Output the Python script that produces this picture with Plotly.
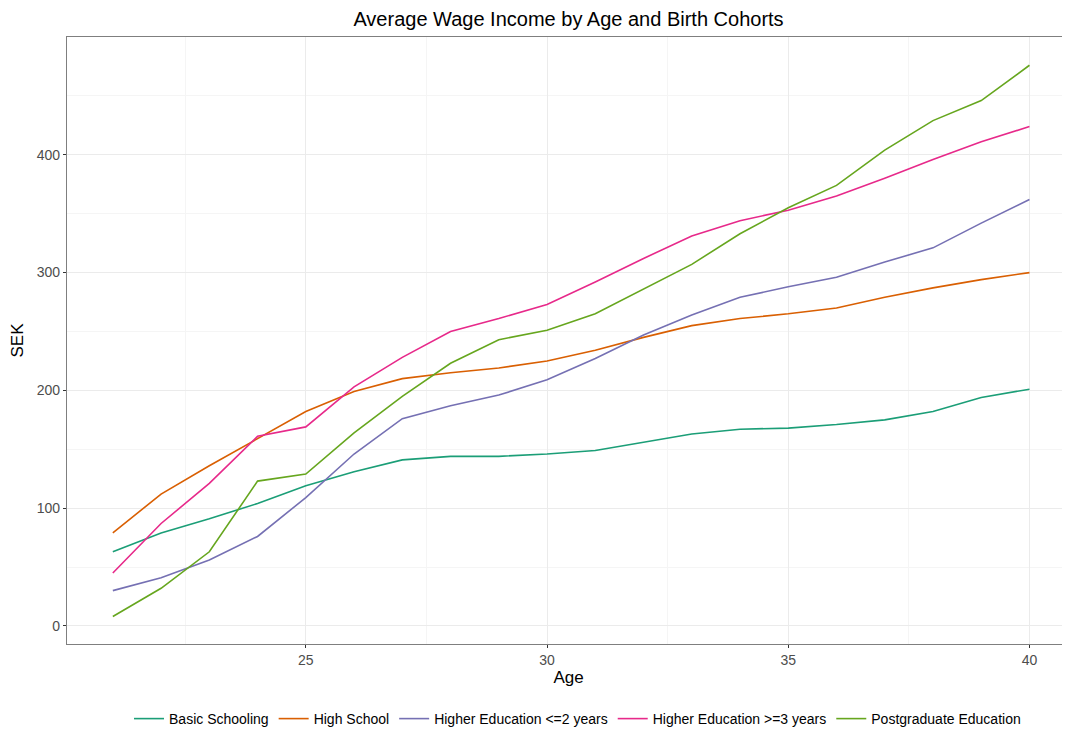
import plotly.graph_objects as go

# edad y salarios medios (SEK) por nivel educativo
ages = list(range(21, 41))

basic_schooling = [63, 79, 91, 104, 119, 131, 141, 144, 144, 146, 149, 156,
                   163, 167, 168, 171, 175, 182, 194, 201]
high_school = [79, 112, 136, 159, 182, 199, 210, 215, 219, 225, 234, 245,
               255, 261, 265, 270, 279, 287, 294, 300]
higher_le2 = [30, 41, 56, 76, 109, 146, 176, 187, 196, 209, 227, 247,
              264, 279, 288, 296, 309, 321, 342, 362]
higher_ge3 = [45, 87, 121, 161, 169, 203, 228, 250, 261, 273, 292, 312,
              331, 344, 353, 365, 380, 396, 411, 424]
postgraduate = [8, 32, 63, 123, 129, 164, 195, 223, 243, 251, 265, 286,
                307, 333, 355, 374, 404, 429, 446, 476]

series = [
    ("Basic Schooling", basic_schooling, "#1B9E77"),
    ("High School", high_school, "#D95F02"),
    ("Higher Education <=2 years", higher_le2, "#7570B3"),
    ("Higher Education >=3 years", higher_ge3, "#E7298A"),
    ("Postgraduate Education", postgraduate, "#66A61E"),
]

FONT = "Liberation Sans, Arial, sans-serif"

fig = go.Figure()
for name, values, color in series:
    fig.add_trace(
        go.Scatter(
            x=ages,
            y=values,
            mode="lines",
            name=name,
            line=dict(color=color, width=1.6),
        )
    )

# la página tiene 8px de margen en el body, se compensa aquí
fig.update_layout(
    width=1062,
    height=727,
    margin=dict(l=59, r=0, t=29, b=91),
    paper_bgcolor="white",
    plot_bgcolor="white",
    font=dict(family=FONT, color="#000000"),
    title=dict(
        text="Average Wage Income by Age and Birth Cohorts",
        font=dict(size=20, color="#000000"),
        x=0.5,
        xanchor="center",
        xref="paper",
        y=1 - 11 / 727,
        yanchor="middle",
    ),
    showlegend=True,
    legend=dict(
        orientation="h",
        x=0.509,
        xanchor="center",
        xref="paper",
        y=-0.124,
        yanchor="middle",
        font=dict(size=14, color="#000000"),
        itemwidth=30,
        tracegroupgap=0,
    ),
)

fig.update_xaxes(
    range=[20.05, 40.84],
    tickvals=[25, 30, 35, 40],
    ticks="outside",
    ticklen=3,
    tickwidth=1,
    tickcolor="#333333",
    tickfont=dict(size=14, color="#4d4d4d"),
    showgrid=True,
    gridcolor="#ebebeb",
    gridwidth=1,
    minor=dict(showgrid=True, tickvals=[22.5, 27.5, 32.5, 37.5],
               gridcolor="#f5f5f5", gridwidth=0.6),
    zeroline=False,
    showline=True,
    linecolor="#7f7f7f",
    linewidth=1.2,
    mirror=True,
    title=dict(text="Age", font=dict(size=17, color="#000000"), standoff=2),
)

fig.update_yaxes(
    range=[-15.3, 500],
    tickvals=[0, 100, 200, 300, 400],
    ticks="outside",
    ticklen=3,
    tickwidth=1,
    tickcolor="#333333",
    tickfont=dict(size=14, color="#4d4d4d"),
    showgrid=True,
    gridcolor="#ebebeb",
    gridwidth=1,
    minor=dict(showgrid=True, tickvals=[50, 150, 250, 350, 450],
               gridcolor="#f5f5f5", gridwidth=0.6),
    zeroline=False,
    showline=True,
    linecolor="#7f7f7f",
    linewidth=1.2,
    title=dict(text="SEK", font=dict(size=17, color="#000000"), standoff=10),
)

fig.write_html("out.html", post_script="document.body.style.overflow='hidden';")
